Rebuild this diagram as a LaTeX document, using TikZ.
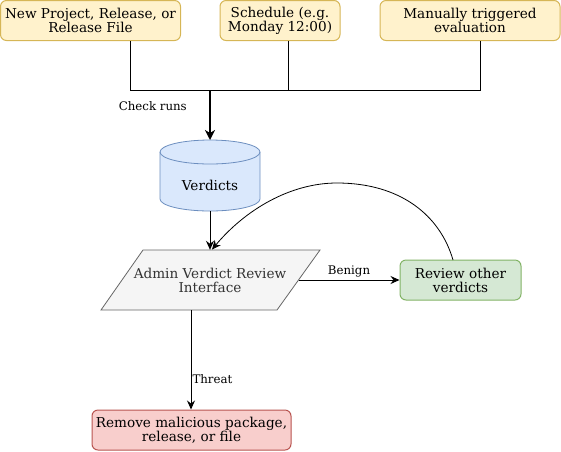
\documentclass[tikz,border=0pt]{standalone}
\usepackage{fontspec}
\setmainfont{DejaVu Serif}
\usetikzlibrary{arrows.meta}
\definecolor{yfill}{HTML}{FFF2CC}
\definecolor{ydraw}{HTML}{D6B656}
\definecolor{bfill}{HTML}{DAE8FC}
\definecolor{bdraw}{HTML}{6C8EBF}
\definecolor{gfill}{HTML}{F5F5F5}
\definecolor{gdraw}{HTML}{666666}
\definecolor{gtext}{HTML}{333333}
\definecolor{grfill}{HTML}{D5E8D4}
\definecolor{grdraw}{HTML}{82B366}
\definecolor{rfill}{HTML}{F8CECC}
\definecolor{rdraw}{HTML}{B85450}
\begin{document}
\begin{tikzpicture}[x=1pt,y=-1pt,
  box/.style={rectangle, rounded corners=6pt, line width=1pt, inner sep=0pt, align=center,
    font=\fontsize{13.6}{14}\selectfont},
  ybox/.style={box, fill=yfill, draw=ydraw},
  lbl/.style={font=\fontsize{11.8}{13}\selectfont, inner sep=1pt},
  conn/.style={line width=1pt},
  arr/.style={conn, -{Stealth[length=9pt, width=8pt, inset=3pt]}},
  thickarr/.style={line width=2pt, -{Stealth[length=10pt, width=10pt, inset=3pt]}},
  maintext/.style={font=\fontsize{13.6}{14}\selectfont, align=center, inner sep=0pt}]
\useasboundingbox (0,0) rectangle (561,451);

% source boxes
\node[ybox, minimum width=180pt, minimum height=40pt] (n1) at (90.5,20.5) {New Project, Release, or\\Release File};
\node[ybox, minimum width=120pt, minimum height=40pt] (n2) at (280,20.5) {Schedule (e.g.\\Monday 12:00)};
\node[ybox, minimum width=180pt, minimum height=40pt] (n3) at (470,20.5) {Manually triggered\\evaluation};

% cylinder
\fill[bfill] (160,152) -- (160,199) arc[start angle=180, end angle=0, x radius=50, y radius=12] -- (260,152) -- cycle;
\fill[bfill] (210,152) ellipse[x radius=50, y radius=12];
\draw[bdraw, line width=0.8pt] (160,152) -- (160,199) arc[start angle=180, end angle=0, x radius=50, y radius=12] -- (260,152);
\draw[bdraw, line width=0.8pt] (210,152) ellipse[x radius=50, y radius=12];
\node[maintext, minimum width=100pt, minimum height=71pt, text depth=0pt] (verd) at (210,175.5) {};
\node[maintext] (verdtxt) at (210,185) {Verdicts};
\coordinate (verdtop) at (210,140);

% parallelogram
\fill[gfill] (143,250) -- (320,250) -- (277,310) -- (101,310) -- cycle;
\draw[gdraw, line width=0.8pt] (143,250) -- (320,250) -- (277,310) -- (101,310) -- cycle;
\node[maintext, text=gtext, minimum width=219pt, minimum height=60pt] (adm) at (210,280) {Admin Verdict Review\\Interface};
\coordinate (admR) at (298.5,280);
\coordinate (admB) at (191,310);

% review and remove
\node[box, fill=grfill, draw=grdraw, minimum width=121pt, minimum height=40pt] (rev) at (460.5,280) {Review other\\verdicts};
\node[box, fill=rfill, draw=rdraw, minimum width=199pt, minimum height=40pt] (rem) at (191.5,430) {Remove malicious package,\\release, or file};

% merge lines
\coordinate (hub) at (210,90);
\coordinate (j1) at (130,90);
\coordinate (j2) at (288.5,90);
\coordinate (j3) at (480,90);
\draw[conn] (j1 |- n1.south) -- (j1) -- (j3) -- (j3 |- n3.south);
\draw[conn] (j2 |- n2.south) -- (j2);
\draw[thickarr] (hub) -- (verdtop);
\node[lbl, anchor=east] (lcheck) at (188,106) {Check runs};

% flows
\draw[arr] (verd.south) -- (adm.north);
\draw[arr] (admR) -- (rev.west) node[lbl, midway, above=1pt] (lben) {Benign};
\draw[arr] (admB) -- (admB |- rem.north) node[lbl, pos=0.69, anchor=west] (lthr) {Threat};
\coordinate (revtop) at (453,260);
\coordinate (peak) at (337,183);
\draw[line width=0.8pt, -{Stealth[length=9pt, width=8pt, inset=3pt]}] (revtop) .. controls (440,215) and (400,183) .. (peak) .. controls (290,183) and (245,210) .. (212,249.5);
\end{tikzpicture}
\end{document}
